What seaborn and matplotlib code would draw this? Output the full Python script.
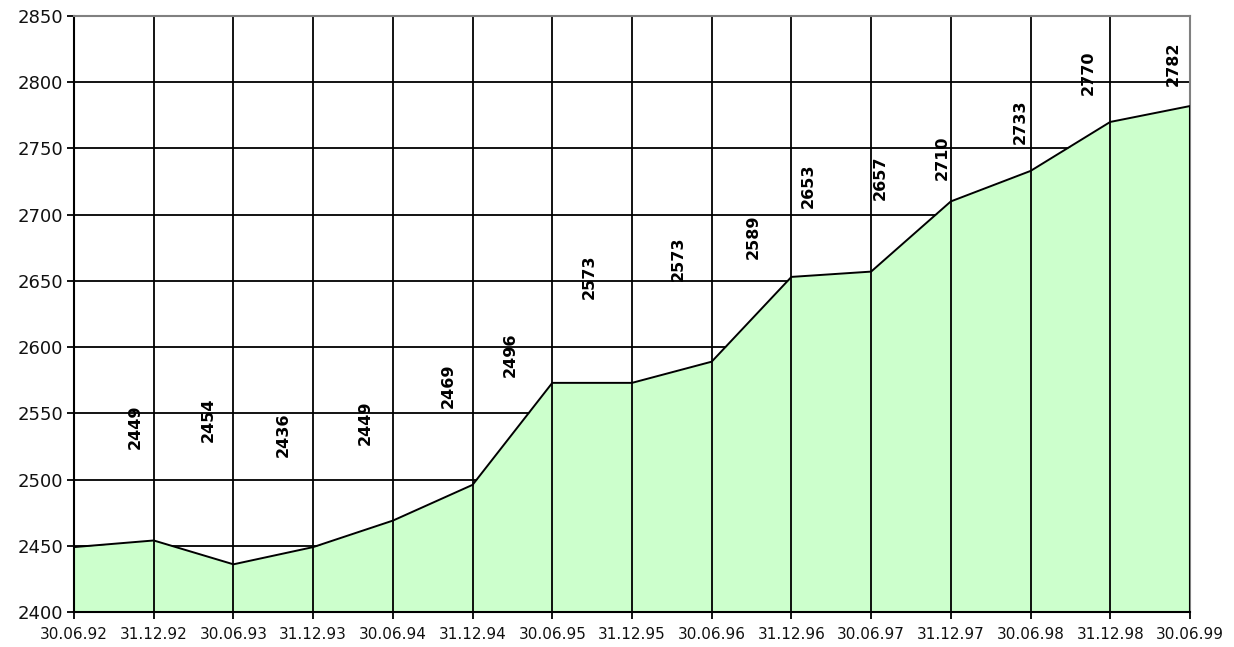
import matplotlib
matplotlib.use('Agg')
import matplotlib.pyplot as plt
import seaborn as sns
import pandas as pd

# data
dates = ['30.06.92', '31.12.92', '30.06.93', '31.12.93', '30.06.94',
         '31.12.94', '30.06.95', '31.12.95', '30.06.96', '31.12.96',
         '30.06.97', '31.12.97', '30.06.98', '31.12.98', '30.06.99']
values = [2449, 2454, 2436, 2449, 2469, 2496, 2573, 2573, 2589, 2653,
          2657, 2710, 2733, 2770, 2782]
y_ticks = [2400, 2450, 2500, 2550, 2600, 2650, 2700, 2750, 2800, 2850]

# where the rotated value labels sit, relative to their point (category units, value units)
label_dx = [0.77, 0.68, 0.62, 0.65, 0.69, 0.47, 0.47, 0.58, 0.52, 0.21,
            0.11, -0.11, -0.13, -0.28, -0.21]
label_dy = [91, 91, 98, 94, 102, 98, 80, 94, 94, 69, 71, 33, 37, 37, 32]

df = pd.DataFrame({'date': dates, 'value': values})
df['pos'] = range(len(df))

sns.set_style('white')
plt.rcParams['font.family'] = ['DejaVu Sans']

fig, ax = plt.subplots(figsize=(12.34, 6.47), dpi=100)
fig.subplots_adjust(left=0.06, right=0.9643, top=0.9753, bottom=0.0541)

# horizontal grid behind the area
for yv in y_ticks:
    ax.axhline(yv, color='black', lw=1.3, zorder=0)

ax.fill_between(df['pos'], df['value'], y_ticks[0], color='#CCFFCC', zorder=1, lw=0)
sns.lineplot(data=df, x='pos', y='value', color='black', lw=1.4, ax=ax, zorder=3)

# vertical lines on top of the area; the last one only closes the area
inner = df.iloc[:-1]
ax.vlines(inner['pos'], y_ticks[0], y_ticks[-1], color='black', lw=1.3, zorder=2)
last = df.iloc[-1]
ax.vlines(last['pos'], y_ticks[0], last['value'], color='black', lw=2.2, zorder=3)

for i, row in df.iterrows():
    ax.text(row['pos'] + label_dx[i], row['value'] + label_dy[i], str(row['value']),
            rotation=90, ha='center', va='center', fontsize=11.5,
            fontweight='bold', color='black', zorder=4)

ax.set_xlim(0, len(dates) - 1)
ax.set_ylim(y_ticks[0], y_ticks[-1])
ax.set_xticks(df['pos'])
ax.set_xticklabels(dates, fontsize=11)
ax.set_yticks(y_ticks)
ax.set_yticklabels([str(v) for v in y_ticks], fontsize=13)
ax.set_xlabel('')
ax.set_ylabel('')
ax.tick_params(axis='both', direction='out', length=5, width=1.3, color='black',
               bottom=True, left=True, labelcolor='#111111')
ax.tick_params(axis='x', pad=6)
ax.tick_params(axis='y', pad=3)

for side in ['left', 'bottom']:
    ax.spines[side].set_color('black')
    ax.spines[side].set_linewidth(1.5)
for side in ['top', 'right']:
    ax.spines[side].set_visible(True)
    ax.spines[side].set_color('#808080')
    ax.spines[side].set_linewidth(1.5)

plt.savefig('out.png', dpi=100)
